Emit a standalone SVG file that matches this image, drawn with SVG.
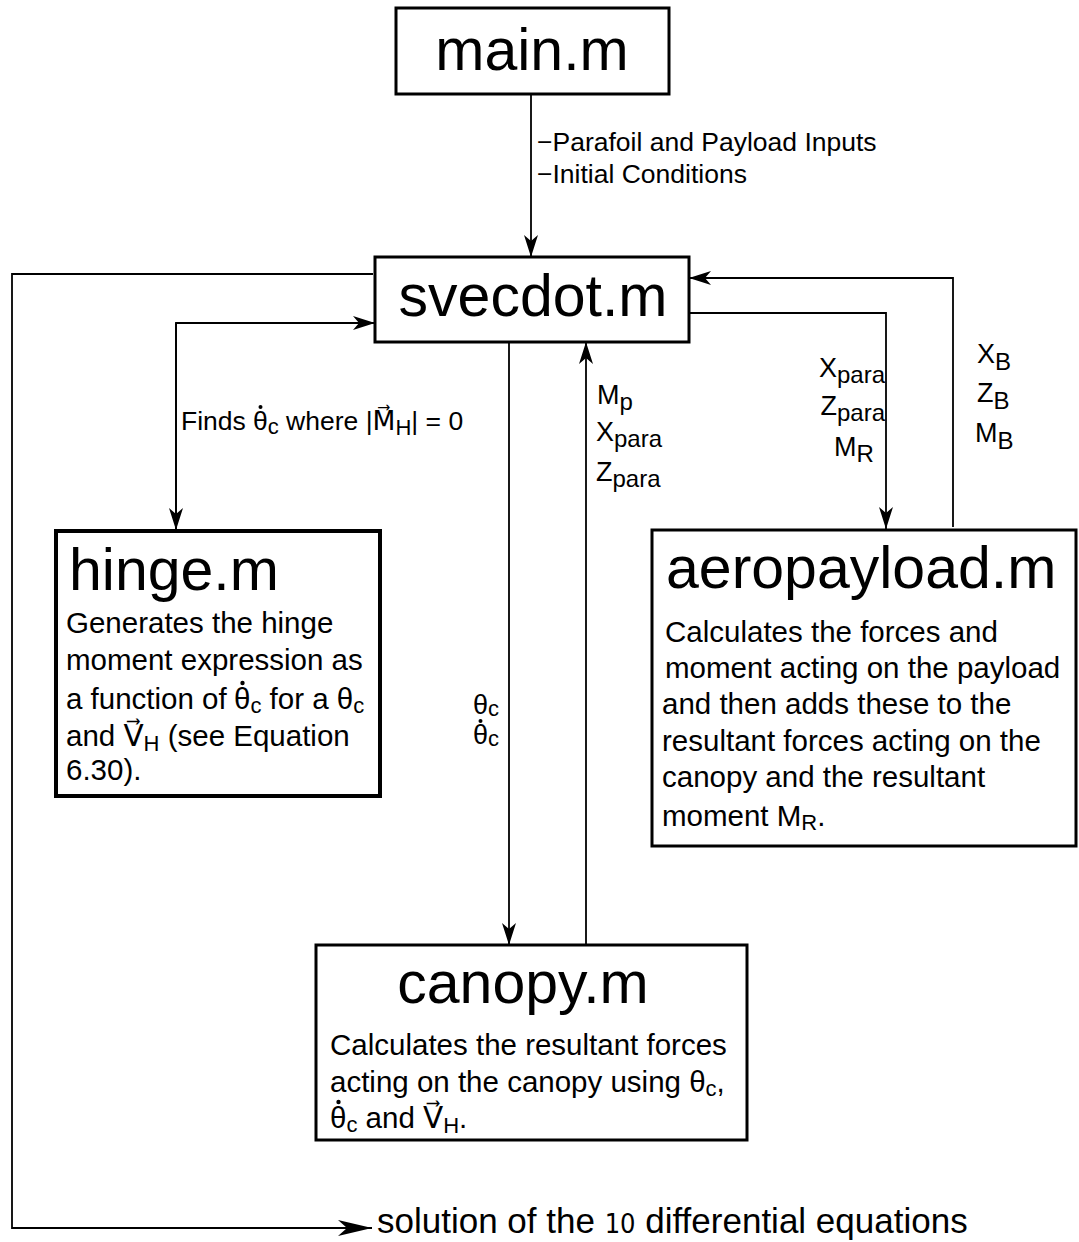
<svg xmlns="http://www.w3.org/2000/svg" width="1079" height="1242" viewBox="0 0 1079 1242">
<style>
text{font-family:"Liberation Sans","DejaVu Sans",Arial,sans-serif;fill:#000}
.title{font-size:59px}
.body{font-size:29.5px}
.lbl{font-size:26.5px}
.var{font-size:27px}
.sub{font-size:22px}
.vsub{font-size:24px}
.box{fill:#fff;stroke:#000;stroke-width:3}
.thick{stroke-width:4}
.conn{fill:none;stroke:#000;stroke-width:1.8}
.dot{fill:#000}
</style>
<defs>
<marker id="ah" markerUnits="userSpaceOnUse" markerWidth="24" markerHeight="16" refX="22" refY="7" orient="auto">
<path d="M0,0 L22,7 L0,14 L6,7 z" fill="#000"/>
</marker>
<marker id="ahbig" markerUnits="userSpaceOnUse" markerWidth="36" markerHeight="18" refX="34" refY="8" orient="auto">
<path d="M0,0 L34,8 L0,16 L9,8 z" fill="#000"/>
</marker>
</defs>

<g id="connectors">
<path class="conn" d="M531,94 V257" marker-end="url(#ah)"/>
<path class="conn" d="M373,274 H12 V1228 H372" marker-end="url(#ahbig)"/>
<path class="conn" d="M176,530 V323 H375" marker-end="url(#ah)"/>
<path class="conn" d="M176,323 V530" marker-end="url(#ah)"/>
<path class="conn" d="M689,313 H886 V529" marker-end="url(#ah)"/>
<path class="conn" d="M953,527 V278 H689" marker-end="url(#ah)"/>
<path class="conn" d="M509,342 V945" marker-end="url(#ah)"/>
<path class="conn" d="M586,945 V342" marker-end="url(#ah)"/>
</g>

<g id="labels">
<text class="lbl" x="537" y="151">−Parafoil and Payload Inputs</text>
<text class="lbl" x="537" y="183">−Initial Conditions</text>
<text class="lbl" x="181" y="430">Finds <tspan x="253">θ</tspan><tspan class="sub" dy="4">c</tspan><tspan dy="-4"> where |M⃗</tspan><tspan class="sub" dy="5">H</tspan><tspan dy="-5">| = 0</tspan></text>
<circle class="dot" cx="260.5" cy="407" r="2"/>
<text class="var" x="597" y="404">M<tspan class="vsub" dy="6">p</tspan></text>
<text class="var" x="596" y="441">X<tspan class="vsub" dy="6">para</tspan></text>
<text class="var" x="596" y="481">Z<tspan class="vsub" dy="6">para</tspan></text>
<text class="var" x="885" y="377" text-anchor="end">X<tspan class="vsub" dy="6">para</tspan></text>
<text class="var" x="885" y="415" text-anchor="end">Z<tspan class="vsub" dy="6">para</tspan></text>
<text class="var" x="834" y="456">M<tspan class="vsub" dy="6">R</tspan></text>
<text class="var" x="977" y="363">X<tspan class="vsub" dy="7">B</tspan></text>
<text class="var" x="977" y="402">Z<tspan class="vsub" dy="7">B</tspan></text>
<text class="var" x="975" y="442">M<tspan class="vsub" dy="7">B</tspan></text>
<text class="var" x="473" y="714">θ<tspan class="sub" dy="2">c</tspan></text>
<text class="var" x="473" y="744">θ<tspan class="sub" dy="2">c</tspan></text>
<circle class="dot" cx="480.5" cy="721" r="2"/>
<text x="377" y="1233" style="font-size:35px">solution of the <tspan style="font-size:27px;font-family:'Liberation Sans Narrow','DejaVu Sans Condensed',sans-serif">10</tspan> differential equations</text>
</g>

<g id="main">
<rect class="box" x="396" y="8" width="273" height="86"/>
<text class="title" x="532" y="70" text-anchor="middle">main.m</text>
</g>

<g id="svecdot">
<rect class="box" x="375" y="257" width="314" height="85"/>
<text class="title" x="533" y="316" text-anchor="middle">svecdot.m</text>
</g>

<g id="hinge">
<rect class="box thick" x="56" y="531" width="324" height="265"/>
<text class="title" x="69" y="590">hinge.m</text>
<text class="body" x="66" y="633">Generates the hinge</text>
<text class="body" x="66" y="670">moment expression as</text>
<text class="body" x="66" y="709">a function of <tspan x="234">θ</tspan><tspan class="sub" dy="4">c</tspan><tspan dy="-4"> for a θ</tspan><tspan class="sub" dy="4">c</tspan></text>
<circle class="dot" cx="242.5" cy="683" r="2.2"/>
<text class="body" x="66" y="746">and V⃗<tspan class="sub" dy="5">H</tspan><tspan dy="-5"> (see Equation</tspan></text>
<text class="body" x="66" y="780">6.30).</text>
</g>

<g id="aeropayload">
<rect class="box" x="652" y="530" width="424" height="316"/>
<text class="title" x="666" y="588">aeropayload.m</text>
<text class="body" x="665" y="642">Calculates the forces and</text>
<text class="body" x="665" y="678">moment acting on the payload</text>
<text class="body" x="662" y="714">and then adds these to the</text>
<text class="body" x="662" y="751">resultant forces acting on the</text>
<text class="body" x="662" y="787">canopy and the resultant</text>
<text class="body" x="662" y="826">moment M<tspan class="sub" dy="4">R</tspan><tspan dy="-4">.</tspan></text>
</g>

<g id="canopy">
<rect class="box" x="316" y="945" width="431" height="195"/>
<text class="title" x="523" y="1003" text-anchor="middle">canopy.m</text>
<text class="body" x="330" y="1055">Calculates the resultant forces</text>
<text class="body" x="330" y="1092">acting on the canopy using θ<tspan class="sub" dy="4">c</tspan><tspan dy="-4">,</tspan></text>
<text class="body" x="330" y="1128">θ<tspan class="sub" dy="4">c</tspan><tspan dy="-4"> and V⃗</tspan><tspan class="sub" dy="5">H</tspan><tspan dy="-5">.</tspan></text>
<circle class="dot" cx="338.5" cy="1102" r="2.2"/>
</g>
</svg>
